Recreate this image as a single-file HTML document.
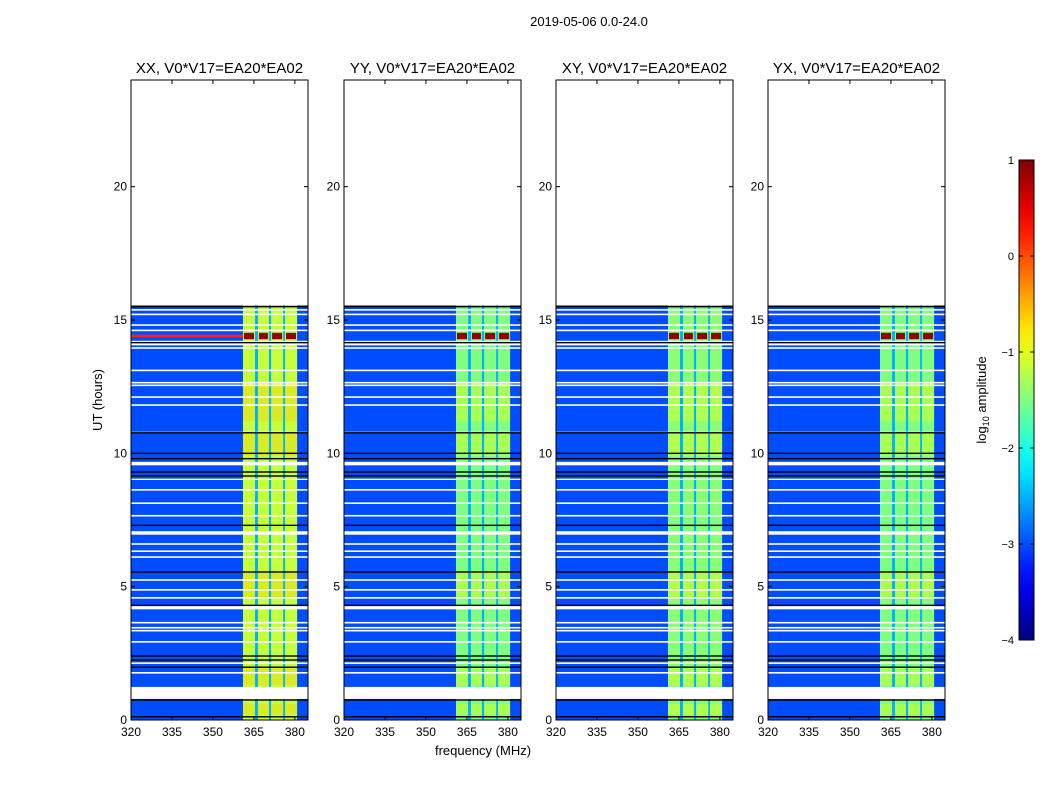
<!DOCTYPE html>
<html><head><meta charset="utf-8">
<style>
body{margin:0;background:#fff;}
svg{display:block;font-family:"Liberation Sans",sans-serif;}
</style></head>
<body>
<svg id="chart" width="1050" height="800" viewBox="0 0 1050 800" xmlns="http://www.w3.org/2000/svg">
<text x="589" y="26" font-size="13" text-anchor="middle">2019-05-06 0.0-24.0</text>
<text x="483" y="755" font-size="13" text-anchor="middle">frequency (MHz)</text>
<text transform="translate(102,400) rotate(-90)" font-size="13" text-anchor="middle">UT (hours)</text>
<text transform="translate(986,400) rotate(-90)" font-size="13" text-anchor="middle">log<tspan font-size="9" dy="3">10</tspan><tspan dy="-3"> amplitude</tspan></text>
</svg>
<script>
const panelTitles=["XX, V0*V17=EA20*EA02","YY, V0*V17=EA20*EA02","XY, V0*V17=EA20*EA02","YX, V0*V17=EA20*EA02"];
const panelLeft=[131,344,556,768];
const xTicks=[320,335,350,365,380];
const yTicks=[0,5,10,15,20];
const cbTicks=[1,0,-1,-2,-3,-4];
const bandLow=[361,366.5,371.3,376.4];
const bandHigh=[365.4,370.5,375.7,380.8];
const bgValue=[-3.0,-3.0,-3.0,-3.0];
const bandValue=[-1.15,-1.5,-1.45,-1.5];
const hotValue=[-0.6,-0.9,-0.9,-0.9];
const hotStart=[0.2,1.3,4.6,9.9,11.2];
const hotEnd=[0.6,2.0,5.6,10.8,12.6];
const redHour=14.4;
const redValue=0.9;
const dataTop=15.55;
const whiteStart=[0.79,1.74,2.1,2.9,3.32,3.43,3.62,4.15,4.55,4.85,5.22,6.08,6.3,6.57,6.95,7.63,8.1,8.6,9.0,9.55,10.75,11.78,12.08,12.52,12.62,13.08,13.92,14.05,14.58,14.78,15.18,15.35];
const whiteEnd=[1.24,1.8,2.16,2.96,3.38,3.49,3.68,4.27,4.61,4.91,5.28,6.14,6.36,6.63,7.08,7.69,8.16,8.66,9.05,9.68,10.81,11.84,12.14,12.58,12.68,13.14,13.98,14.22,14.64,14.84,15.24,15.41];
const blackLines=[0.12,0.75,1.98,2.25,2.4,4.3,5.55,7.3,9.15,9.3,9.8,10.0,10.77,14.15,15.5];
const xMin=320,xMax=384.8,yMin=0,yMax=24;
const pTop=80,pBot=720,pW=177;
const NS="http://www.w3.org/2000/svg";
const svg=document.getElementById('chart');
function jet(v){let t=Math.max(0,Math.min(1,(v+4)/5));const c=x=>Math.round(255*Math.max(0,Math.min(1,x)));return `rgb(${c(1.5-Math.abs(4*t-3))},${c(1.5-Math.abs(4*t-2))},${c(1.5-Math.abs(4*t-1))})`;}
function mk(tag,attrs,parent){const e=document.createElementNS(NS,tag);for(const k in attrs)e.setAttribute(k,attrs[k]);(parent||svg).appendChild(e);return e;}
const yS=h=>pBot-(h-yMin)/(yMax-yMin)*(pBot-pTop);
panelLeft.forEach((L,p)=>{
  const xS=f=>L+(f-xMin)/(xMax-xMin)*pW;
  const g=mk('g',{});
  
  
  const bg=mk('rect',{x:L,y:yS(dataTop),width:pW,height:yS(0)-yS(dataTop),fill:jet(bgValue[p])},g);
  
  
  const mid=mk('rect',{x:xS(bandLow[0]),y:yS(dataTop),width:xS(bandHigh[3])-xS(bandLow[0]),height:yS(0)-yS(dataTop),fill:jet(-2.5)},g);
  
  
  bandLow.forEach((lo,i)=>{
    const r=mk('rect',{x:xS(lo),y:yS(dataTop),width:xS(bandHigh[i])-xS(lo),height:yS(0)-yS(dataTop),fill:jet(bandValue[p])},g);
    
    
    hotStart.forEach((hs,j)=>{
      const h=mk('rect',{x:xS(lo),y:yS(hotEnd[j]),width:xS(bandHigh[i])-xS(lo),height:yS(hs)-yS(hotEnd[j]),fill:jet(hotValue[p]),opacity:0.35},g);
      
      
    });
    const rd=mk('rect',{x:xS(lo)+1,y:yS(redHour+0.12),width:xS(bandHigh[i])-xS(lo)-2,height:yS(redHour-0.12)-yS(redHour+0.12),fill:jet(redValue)},g);
    
    
  });
  if(p===0){const rl=mk('rect',{x:L,y:yS(redHour+0.05),width:xS(bandLow[0])-L,height:yS(redHour-0.05)-yS(redHour+0.05),fill:jet(0.2)},g);
    
    }
  whiteStart.forEach((ws,i)=>{
    const w=mk('rect',{x:L,y:yS(whiteEnd[i]),width:pW,height:Math.max(1.2,yS(ws)-yS(whiteEnd[i])),fill:'#fff'},g);
    
    
  });
  blackLines.forEach(b=>{
    const l=mk('rect',{x:L,y:yS(b)-0.7,width:pW,height:1.4,fill:'#000'},g);
    
    
  });
  const fr=mk('rect',{x:L,y:pTop,width:pW,height:pBot-pTop,fill:'none',stroke:'#000','stroke-width':1},g);
  
  
  const t=mk('text',{x:L+pW/2,y:73,'font-size':15,'text-anchor':'middle'},g);t.textContent=panelTitles[p];
  
  
  xTicks.forEach(v=>{
    const x=xS(v);
    mk('line',{x1:x,x2:x,y1:pBot,y2:pBot-4,stroke:'#000'},g);
    mk('line',{x1:x,x2:x,y1:pTop,y2:pTop+4,stroke:'#000'},g);
    const tl=mk('text',{x:x,y:pBot+16,'font-size':12,'text-anchor':'middle'},g);tl.textContent=v;
    
    
  });
  yTicks.forEach(v=>{
    const y=yS(v);
    mk('line',{x1:L,x2:L+4,y1:y,y2:y,stroke:'#000'},g);
    mk('line',{x1:L+pW,x2:L+pW-4,y1:y,y2:y,stroke:'#000'},g);
    const tl=mk('text',{x:L-4,y:y+4,'font-size':12,'text-anchor':'end'},g);tl.textContent=v;
    
    
  });
});
const cbX=1019,cbW=15,cbT=160,cbB=640;
const cbS=v=>cbB-(v+4)/5*(cbB-cbT);
const defs=mk('defs',{});
const grad=mk('linearGradient',{id:'jetg',x1:0,y1:1,x2:0,y2:0},defs);
for(let i=0;i<=20;i++){mk('stop',{offset:i/20,'stop-color':jet(-4+5*i/20)},grad);}
const cb=mk('rect',{x:cbX,y:cbT,width:cbW,height:cbB-cbT,fill:'url(#jetg)',stroke:'#000'});


cbTicks.forEach(v=>{
  const y=cbS(v);
  mk('line',{x1:cbX,x2:cbX+4,y1:y,y2:y,stroke:'#000'});
  mk('line',{x1:cbX+cbW,x2:cbX+cbW-4,y1:y,y2:y,stroke:'#000'});
  const tl=mk('text',{x:1014,y:y+4,'font-size':11,'text-anchor':'end'});
  tl.textContent=v<0?'\u2212'+(-v):v;
  
  
});
</script>
</body></html>
